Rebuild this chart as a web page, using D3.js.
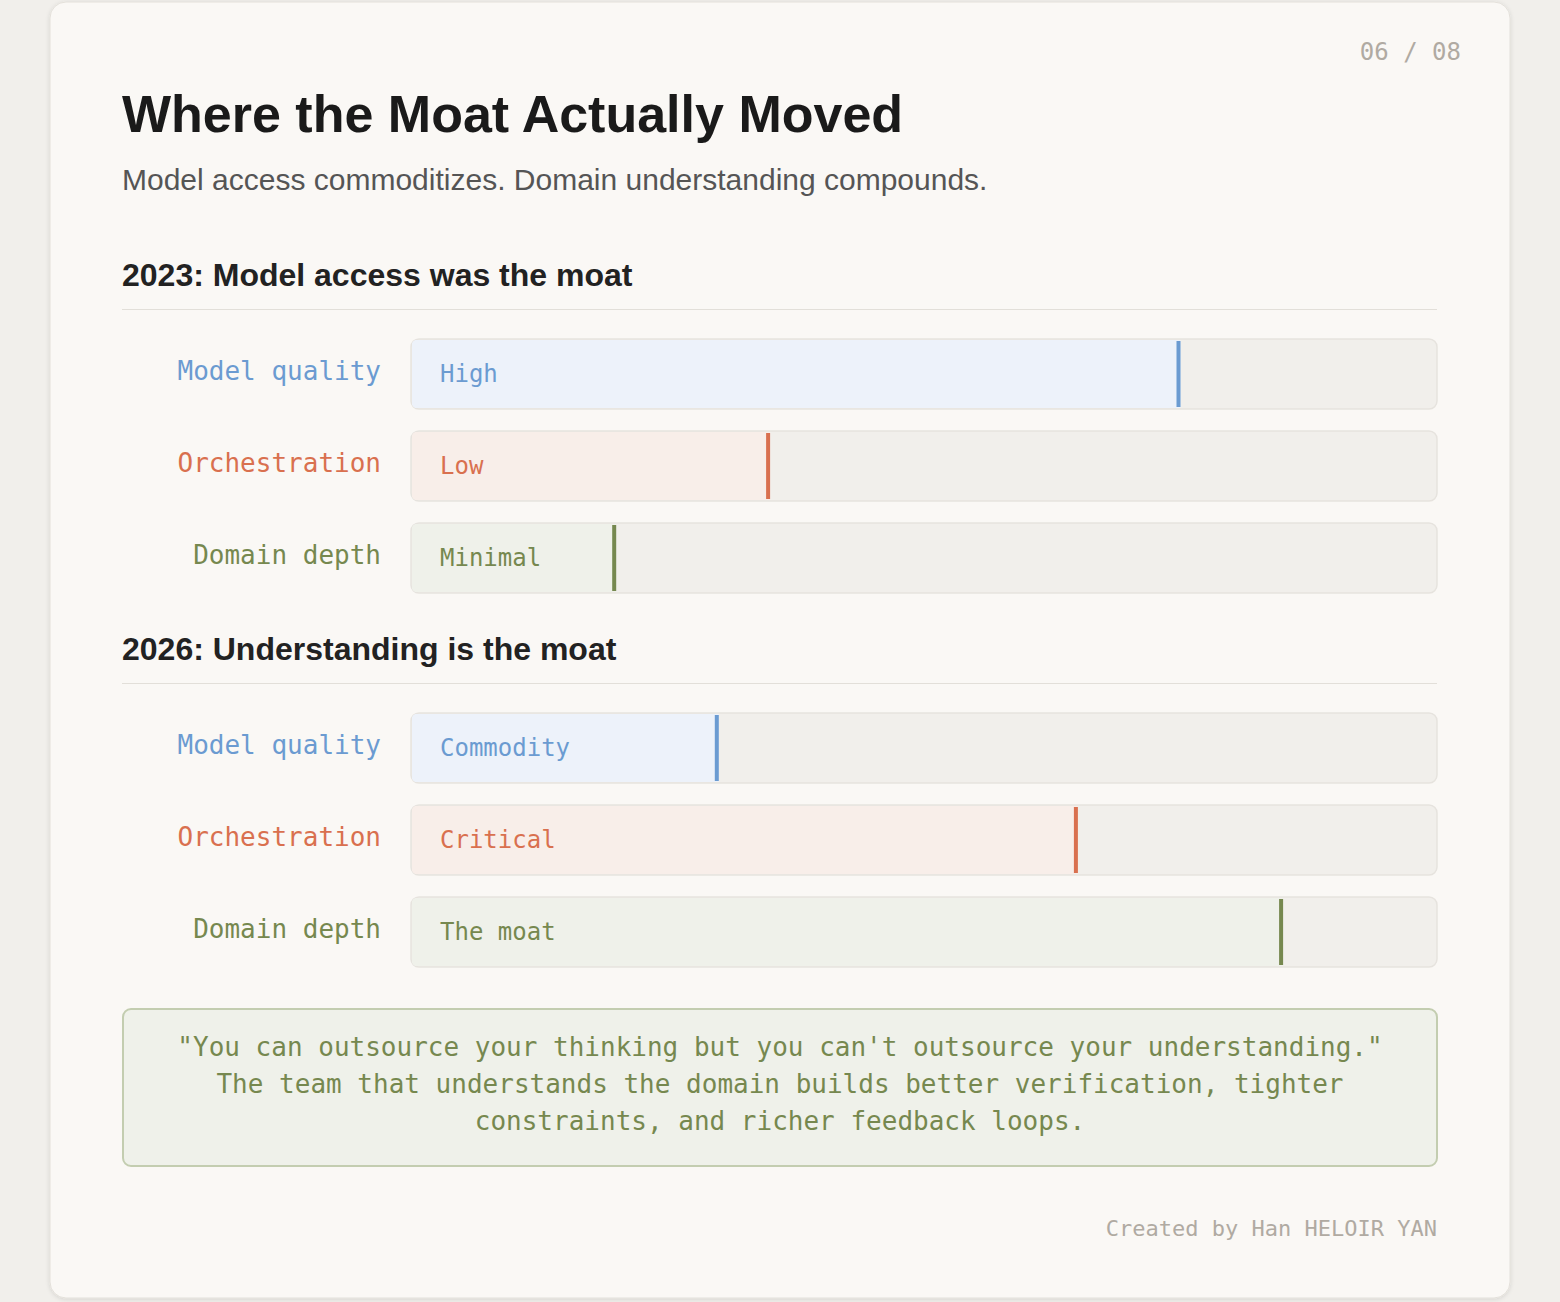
<!DOCTYPE html>
<html><head><meta charset="utf-8">
<script src="https://cdn.jsdelivr.net/npm/d3@7"></script>
<style>body{margin:0;background:#f1efeb;}svg{display:block}</style>
</head><body>
<svg id="c" width="1560" height="1302"></svg>
<script>
const sections = ["2023: Model access was the moat", "2026: Understanding is the moat"];
const categories = ["Model quality", "Orchestration", "Domain depth"];
const values2023 = [75, 35, 20];
const values2026 = [30, 65, 85];
const labels2023 = ["High", "Low", "Minimal"];
const labels2026 = ["Commodity", "Critical", "The moat"];
const colors = ["#6b9bd1", "#d9704f", "#76884f"];
const fills = ["#edf2fa", "#f8eee9", "#eff1ea"];
const quoteLines = ["\"You can outsource your thinking but you can't outsource your understanding.\"",
  "The team that understands the domain builds better verification, tighter",
  "constraints, and richer feedback loops."];

const svg = d3.select("#c");
const mono = "'DejaVu Sans Mono', monospace";
const sans = "'Liberation Sans', Arial, sans-serif";
const defs = svg.append("defs");
const f = defs.append("filter").attr("id","sh").attr("x","-5%").attr("y","-5%").attr("width","110%").attr("height","110%");
f.append("feDropShadow").attr("dx",0).attr("dy",1).attr("stdDeviation",2).attr("flood-color","#000").attr("flood-opacity",0.12);
svg.append("rect").attr("x",50).attr("y",2).attr("width",1460).attr("height",1296).attr("rx",16)
  .attr("fill","#faf8f5").attr("stroke","#e3e0da").attr("filter","url(#sh)");

svg.append("text").attr("x",1461).attr("y",60).attr("text-anchor","end").attr("font-family",mono)
  .attr("font-size",24).attr("fill","#b0aaa2").text("06 / 08");
svg.append("text").attr("x",122).attr("y",132).attr("font-family",sans).attr("font-weight","bold")
  .attr("font-size",52).attr("fill","#1a1a1a").text("Where the Moat Actually Moved");
svg.append("text").attr("x",122).attr("y",190).attr("font-family",sans)
  .attr("font-size",30).attr("fill","#555").text("Model access commoditizes. Domain understanding compounds.");

const x = d3.scaleLinear().domain([0,100]).range([411,1437]);
const data = [[values2023, labels2023],[values2026, labels2026]];
const secTop = [258, 632];
data.forEach(([vals, labs], s) => {
  const y0 = secTop[s];
  svg.append("text").attr("x",122).attr("y",y0+28).attr("font-family",sans).attr("font-weight","bold")
    .attr("font-size",32).attr("fill","#222").text(sections[s]);
  svg.append("line").attr("x1",122).attr("x2",1437).attr("y1",y0+51.5).attr("y2",y0+51.5).attr("stroke","#e2dfd9");
  const y = d3.scaleBand().domain(categories).range([y0+81, y0+81+254]).paddingInner(22/92);
  const g = svg.append("g").selectAll("g").data(categories).join("g");
  g.append("rect").attr("x",x(0)).attr("y",d=>y(d)).attr("width",x(100)-x(0)).attr("height",y.bandwidth())
    .attr("rx",8).attr("fill","#f1efeb").attr("stroke","#e6e3de").attr("stroke-width",1.5);
  g.append("clipPath").attr("id",(d,i)=>`cp${s}${i}`).append("rect").attr("x",x(0)).attr("y",d=>y(d))
    .attr("width",x(100)-x(0)).attr("height",y.bandwidth()).attr("rx",8);
  g.append("rect").attr("clip-path",(d,i)=>`url(#cp${s}${i})`).attr("x",x(0)+1).attr("y",d=>y(d)+1)
    .attr("width",(d,i)=>x(vals[i])-x(0)-1).attr("height",y.bandwidth()-2).attr("fill",(d,i)=>fills[i]);
  g.append("rect").attr("x",(d,i)=>x(vals[i])-4).attr("y",d=>y(d)+2).attr("width",4).attr("height",y.bandwidth()-4)
    .attr("fill",(d,i)=>colors[i]);
  g.append("text").attr("x",381).attr("y",d=>y(d)+y.bandwidth()/2+6).attr("text-anchor","end")
    .attr("font-family",mono).attr("font-size",26).attr("fill",(d,i)=>colors[i]).text(d=>d);
  g.append("text").attr("x",440).attr("y",d=>y(d)+y.bandwidth()/2+8).attr("font-family",mono)
    .attr("font-size",24).attr("fill",(d,i)=>colors[i]).text((d,i)=>labs[i]);
});

svg.append("rect").attr("x",123).attr("y",1009).attr("width",1314).attr("height",157).attr("rx",8)
  .attr("fill","#eff1ea").attr("stroke","#c3cdb0").attr("stroke-width",2);
svg.append("g").selectAll("text").data(quoteLines).join("text").attr("x",780).attr("y",(d,i)=>1056+i*37)
  .attr("text-anchor","middle").attr("font-family",mono).attr("font-size",26).attr("fill","#76884f").text(d=>d);
svg.append("text").attr("x",1437).attr("y",1236).attr("text-anchor","end").attr("font-family",mono)
  .attr("font-size",22).attr("fill","#b0aaa2").text("Created by Han HELOIR YAN");
</script>
</body></html>
